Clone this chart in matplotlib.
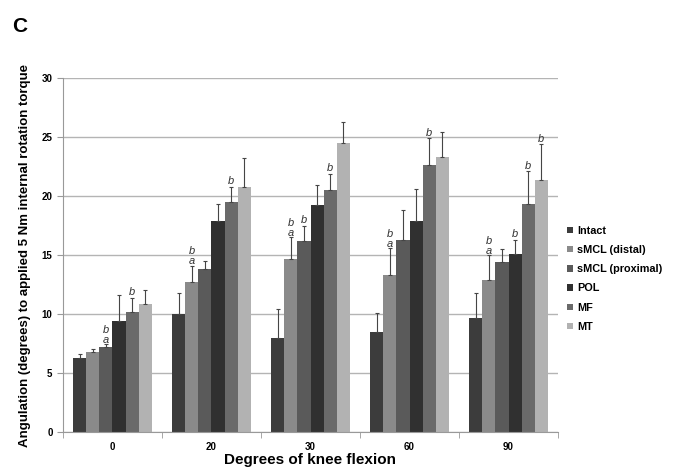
import matplotlib
matplotlib.use('Agg')
import matplotlib.pyplot as plt
import numpy as np
from matplotlib.patches import Patch

plt.rcParams['font.family'] = ['Liberation Sans', 'DejaVu Sans']

# knee flexion angles
categories = ['0', '20', '30', '60', '90']
series = ['Intact', 'sMCL (distal)', 'sMCL (proximal)', 'POL', 'MF', 'MT']
colors = ['#3c3c3c', '#8a8a8a', '#5a5a5a', '#303030', '#6a6a6a', '#b2b2b2']

# mean angulation per series for each angle
intact = [6.3, 10.0, 8.0, 8.5, 9.7]
smcl_distal = [6.8, 12.7, 14.7, 13.3, 12.9]
smcl_prox = [7.2, 13.8, 16.2, 16.3, 14.4]
pol = [9.4, 17.9, 19.2, 17.9, 15.1]
mf = [10.2, 19.5, 20.5, 22.6, 19.3]
mt = [10.85, 20.8, 24.5, 23.3, 21.4]

# upper error bars (sd)
intact_err = [0.3, 1.8, 2.4, 1.6, 2.1]
smcl_distal_err = [0.25, 1.4, 1.8, 2.3, 2.1]
smcl_prox_err = [0.25, 0.7, 1.3, 2.5, 1.1]
pol_err = [2.2, 1.4, 1.7, 2.7, 1.2]
mf_err = [1.2, 1.3, 1.4, 2.3, 2.8]
mt_err = [1.2, 2.4, 1.8, 2.1, 3.0]

means = [intact, smcl_distal, smcl_prox, pol, mf, mt]
errs = [intact_err, smcl_distal_err, smcl_prox_err, pol_err, mf_err, mt_err]

# significance letters: (category index, series index, text)
letters = [
    (0, 2, 'ba'), (0, 4, 'b'),
    (1, 1, 'ba'), (1, 4, 'b'),
    (2, 1, 'ba'), (2, 2, 'b'), (2, 4, 'b'),
    (3, 1, 'ba'), (3, 4, 'b'),
    (4, 1, 'ba'), (4, 3, 'b'), (4, 4, 'b'), (4, 5, 'b'),
]

fig = plt.figure(figsize=(6.75, 4.76), dpi=100)
ax = fig.add_axes([0.0933, 0.0924, 0.7334, 0.7436])

x = np.arange(len(categories))
width = 0.133
offsets = (np.arange(len(series)) - 2.5) * width

for i, name in enumerate(series):
    xs = x + offsets[i]
    ax.bar(xs, means[i], width, color=colors[i], label=name, zorder=2)
    ax.errorbar(xs, means[i], yerr=[np.zeros(len(x)), errs[i]], fmt='none',
                ecolor='#454545', elinewidth=0.8, capsize=1.5, capthick=0.8, zorder=3)

for ci, si, txt in letters:
    top = means[si][ci] + errs[si][ci]
    xs = x[ci] + offsets[si]
    kw = dict(ha='center', va='bottom', style='italic', fontsize=8,
              color='#333333', zorder=4)
    if txt == 'ba':
        ax.text(xs, top - 0.05, 'a', **kw)
        ax.text(xs, top + 0.8, 'b', **kw)
    else:
        ax.text(xs, top + 0.05, 'b', **kw)

ax.set_ylim(0, 30)
ax.set_xlim(-0.5, len(categories) - 0.5)
ax.set_yticks(range(0, 31, 5))
ax.yaxis.grid(True, color='#b4b4b4', lw=1, zorder=0)
ax.set_axisbelow(True)

ax.set_xticks(x)
ax.set_xticklabels(categories, fontweight='bold', fontsize=7)
ax.set_xticks(np.arange(len(categories) + 1) - 0.5, minor=True)
ax.tick_params(axis='x', which='major', length=0, pad=7)
ax.tick_params(axis='x', which='minor', length=4, color='#999999')
ax.tick_params(axis='y', length=4, color='#999999', labelsize=7)
for lbl in ax.get_yticklabels():
    lbl.set_fontweight('bold')

for s in ['top', 'right']:
    ax.spines[s].set_visible(False)
for s in ['left', 'bottom']:
    ax.spines[s].set_color('#999999')

ax.set_xlabel('Degrees of knee flexion', fontweight='bold', fontsize=11, labelpad=1)
ax.set_ylabel('Angulation (degrees) to applied 5 Nm internal rotation torque',
              fontweight='bold', fontsize=9.5, labelpad=8)

handles = [Patch(facecolor=c, label=n) for c, n in zip(colors, series)]
leg = fig.legend(handles=handles, loc='upper left', bbox_to_anchor=(0.826, 0.546),
                 frameon=False, handlelength=0.55, handleheight=0.55,
                 handletextpad=0.35, labelspacing=0.85, fontsize=7.8)
for t in leg.get_texts():
    t.set_fontweight('bold')

fig.text(0.018, 0.945, 'C', fontsize=15, fontweight='bold', va='center')

fig.savefig('out.png', dpi=100)
plt.close(fig)
